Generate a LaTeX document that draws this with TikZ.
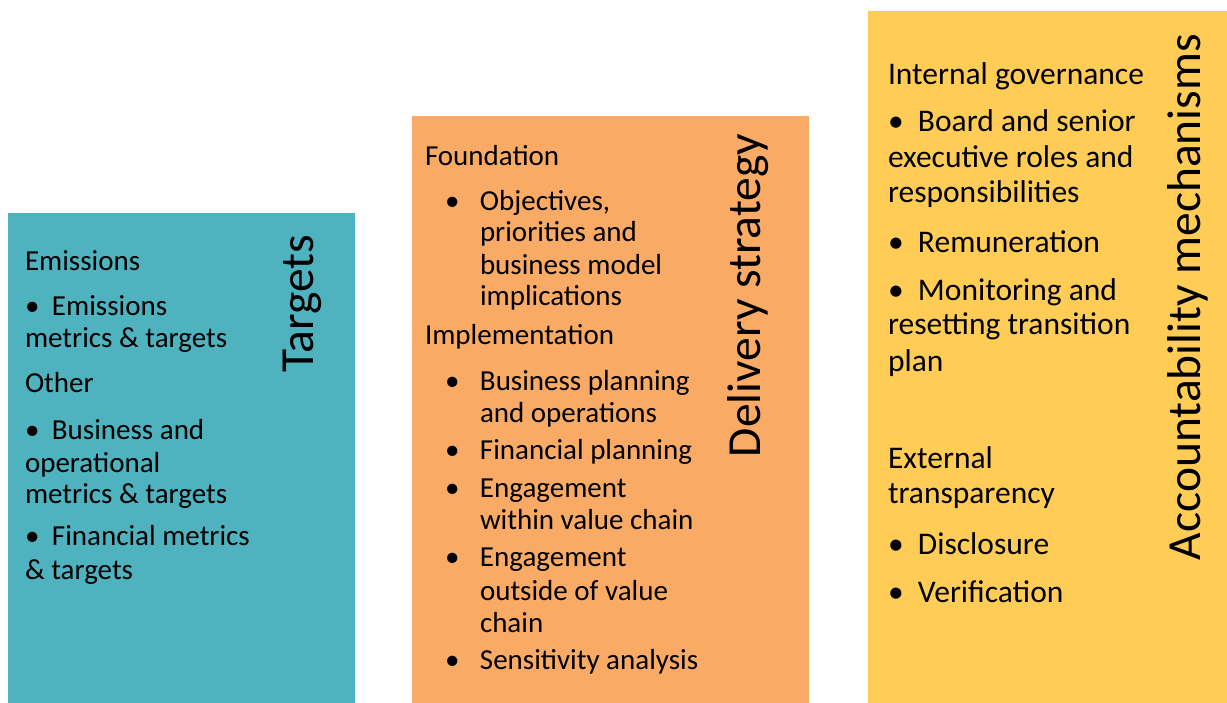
\documentclass[tikz,border=0pt]{standalone}
\usepackage{fontspec}
\setmainfont{Carlito}
\definecolor{tealbox}{RGB}{79,178,191}
\definecolor{orangebox}{RGB}{249,170,100}
\definecolor{yellowbox}{RGB}{255,204,85}
\newcommand\blt[1]{\makebox[#1][l]{\textbullet}}
\tikzset{
  panel/.style={draw=none, inner sep=0pt, outer sep=0pt, anchor=north west},
  txta/.style={inner sep=0pt, outer sep=0pt, anchor=base west, font=\fontsize{29}{32}\selectfont, text=black},
  txtc/.style={inner sep=0pt, outer sep=0pt, anchor=base west, font=\fontsize{31.5}{36}\selectfont, text=black},
  ttl/.style={inner sep=0pt, outer sep=0pt, anchor=base west, rotate=90, font=\fontsize{47.5}{52}\selectfont, text=black}
}
\begin{document}
\begin{tikzpicture}[x=1pt, y=-1pt]
\useasboundingbox (0,0) rectangle (1227,703);
\fill[white] (0,0) rectangle (1227,703);
% panels
\node[panel, fill=tealbox, minimum width=347pt, minimum height=490pt] (p1) at (8,213) {};
\node[panel, fill=orangebox, minimum width=397pt, minimum height=587pt] (p2) at (412,116) {};
\node[panel, fill=yellowbox, minimum width=359pt, minimum height=692pt] (p3) at (868,11) {};
% titles
\node[ttl] (h1) at (313,373) {Targets};
\node[ttl] (h2) at (760,457) {Delivery strategy};
\node[ttl] (h3) at (1200,560) {Accountability mechanisms};
% box 1
\node[txta] (a1) at (25,271) {Emissions};
\node[txta] (a2) at (25,316) {\blt{27pt}Emissions};
\node[txta] (a3) at (25,348) {metrics \& targets};
\node[txta] (a4) at (25,393) {Other};
\node[txta] (a5) at (25,439) {\blt{27pt}Business and};
\node[txta] (a6) at (25,472) {operational};
\node[txta] (a7) at (25,503) {metrics \& targets};
\node[txta] (a8) at (25,545) {\blt{27pt}Financial metrics};
\node[txta] (a9) at (25,579) {\& targets};
% box 2
\node[txta] (b1) at (425,166) {Foundation};
\node[txta] (b2) at (445,211) {\blt{35pt}Objectives,};
\node[txta] (b3) at (480,242) {priorities and};
\node[txta] (b4) at (480,275) {business model};
\node[txta] (b5) at (480,306) {implications};
\node[txta] (b6) at (425,345) {Implementation};
\node[txta] (b7) at (445,391) {\blt{35pt}Business planning};
\node[txta] (b8) at (480,422) {and operations};
\node[txta] (b9) at (445,459) {\blt{35pt}Financial planning};
\node[txta] (b10) at (445,497) {\blt{35pt}Engagement};
\node[txta] (b11) at (480,529) {within value chain};
\node[txta] (b12) at (445,566) {\blt{35pt}Engagement};
\node[txta] (b13) at (480,600) {outside of value};
\node[txta] (b14) at (480,632) {chain};
\node[txta] (b15) at (445,669) {\blt{35pt}Sensitivity analysis};
% box 3
\node[txtc] (c1) at (888,85) {Internal governance};
\node[txtc] (c2) at (888,132) {\blt{30pt}Board and senior};
\node[txtc] (c3) at (888,168) {executive roles and};
\node[txtc] (c4) at (888,203) {responsibilities};
\node[txtc] (c5) at (888,253) {\blt{30pt}Remuneration};
\node[txtc] (c6) at (888,301) {\blt{30pt}Monitoring and};
\node[txtc] (c7) at (888,335) {resetting transition};
\node[txtc] (c8) at (888,372) {plan};
\node[txtc] (c9) at (888,468) {External};
\node[txtc] (c10) at (888,503) {transparency};
\node[txtc] (c11) at (888,554) {\blt{30pt}Disclosure};
\node[txtc] (c12) at (888,602) {\blt{30pt}Verification};
\end{tikzpicture}
\end{document}
